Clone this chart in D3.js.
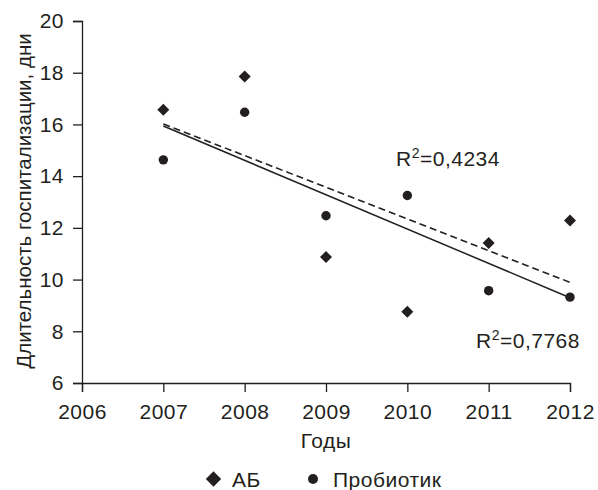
<!DOCTYPE html>
<html lang="ru">
<head>
<meta charset="utf-8">
<title>Длительность госпитализации</title>
<script src="https://cdn.jsdelivr.net/npm/d3@7"></script>
<style>
	body { margin: 0; background: #fff; }
	text { font-family: "Liberation Sans", Arial, sans-serif; fill: #231f20; }
</style>
</head>
<body>
<script>
	// data
	const years = [2007, 2008, 2009, 2010, 2011, 2012];
	const abValues = [16.57, 17.85, 10.87, 8.76, 11.41, 12.28];
	const probioticValues = [14.63, 16.47, 12.47, 13.25, 9.57, 9.32];
	const xTicks = [2006, 2007, 2008, 2009, 2010, 2011, 2012];
	const yTicks = [6, 8, 10, 12, 14, 16, 18, 20];
	const r2Labels = ["0,4234", "0,7768"];

	const W = 598, H = 490;
	const margin = { left: 82, top: 21, right: 28, bottom: 107 };
	const ink = "#231f20";

	const svg = d3.select("body").append("svg")
		.attr("width", W)
		.attr("height", H);

	const x = d3.scaleLinear().domain([2006, 2012]).range([margin.left, W - margin.right]);
	const y = d3.scaleLinear().domain([6, 20]).range([H - margin.bottom, margin.top]);

	// axes
	const xAxis = svg.append("g")
		.attr("transform", `translate(0,${y(6)})`)
		.call(d3.axisBottom(x).tickValues(xTicks).tickFormat(d3.format("d")).tickSize(9).tickPadding(12));
	const yAxis = svg.append("g")
		.attr("transform", `translate(${x(2006)},0)`)
		.call(d3.axisLeft(y).tickValues(yTicks).tickSize(9).tickPadding(9));

	[xAxis, yAxis].forEach(a => {
		a.select(".domain").attr("stroke", ink).attr("stroke-width", 1.3);
		a.selectAll(".tick line").attr("stroke", ink).attr("stroke-width", 1.3);
		a.selectAll(".tick text")
			.attr("font-size", 21)
			.attr("letter-spacing", 0.5)
			.attr("font-family", null)
			.attr("fill", ink);
	});

	svg.append("text")
		.attr("x", x(2009))
		.attr("y", 448)
		.attr("text-anchor", "middle")
		.attr("font-size", 21)
		.attr("letter-spacing", 0.5)
		.text("Годы");

	svg.append("text")
		.attr("transform", `translate(31,${(y(6) + y(20)) / 2 - 1}) rotate(-90)`)
		.attr("text-anchor", "middle")
		.attr("font-size", 20.5)
		.text("Длительность госпитализации, дни");

	// linear regression for the trend lines
	function fit(vals) {
		const mx = d3.mean(years), my = d3.mean(vals);
		let sxy = 0, sxx = 0;
		years.forEach((t, i) => { sxy += (t - mx) * (vals[i] - my); sxx += (t - mx) ** 2; });
		const b = sxy / sxx;
		return t => my + b * (t - mx);
	}

	const line = d3.line().x(d => x(d[0])).y(d => y(d[1]));
	const ends = [years[0], years[years.length - 1]];

	const abFit = fit(abValues);
	svg.append("path")
		.attr("d", line(ends.map(t => [t, abFit(t)])))
		.attr("fill", "none")
		.attr("stroke", ink)
		.attr("stroke-width", 1.6)
		.attr("stroke-dasharray", "7,4");

	const prFit = fit(probioticValues);
	svg.append("path")
		.attr("d", line(ends.map(t => [t, prFit(t)])))
		.attr("fill", "none")
		.attr("stroke", ink)
		.attr("stroke-width", 1.5);

	// markers
	const diamond = d3.symbol().type(d3.symbolDiamond2).size(92);
	svg.append("g").selectAll("path")
		.data(years.map((t, i) => [t, abValues[i]]))
		.join("path")
		.attr("d", diamond)
		.attr("transform", d => `translate(${x(d[0])},${y(d[1])})`)
		.attr("fill", ink);

	svg.append("g").selectAll("circle")
		.data(years.map((t, i) => [t, probioticValues[i]]))
		.join("circle")
		.attr("cx", d => x(d[0]))
		.attr("cy", d => y(d[1]))
		.attr("r", 4.7)
		.attr("fill", ink);

	// R² labels
	function r2(tx, ty, val) {
		const t = svg.append("text").attr("x", tx).attr("y", ty)
			.attr("font-size", 21).attr("letter-spacing", 0.5);
		t.append("tspan").text("R");
		t.append("tspan").attr("font-size", 14).attr("dy", -8).text("2");
		t.append("tspan").attr("dy", 8).text("=" + val);
	}
	r2(396, 166, r2Labels[0]);
	r2(476, 348, r2Labels[1]);

	// legend
	const legendDiamond = d3.symbol().type(d3.symbolDiamond2).size(150);
	const legend = svg.append("g").attr("transform", "translate(0,479)");
	legend.append("path").attr("d", legendDiamond).attr("transform", "translate(213.5,0)").attr("fill", ink);
	legend.append("text").attr("x", 232).attr("y", 7.5).attr("font-size", 21).attr("letter-spacing", 0.5).text("АБ");
	legend.append("circle").attr("cx", 313).attr("cy", 0).attr("r", 5).attr("fill", ink);
	legend.append("text").attr("x", 333).attr("y", 7.5).attr("font-size", 21).attr("letter-spacing", 0.5).text("Пробиотик");
</script>
</body>
</html>
